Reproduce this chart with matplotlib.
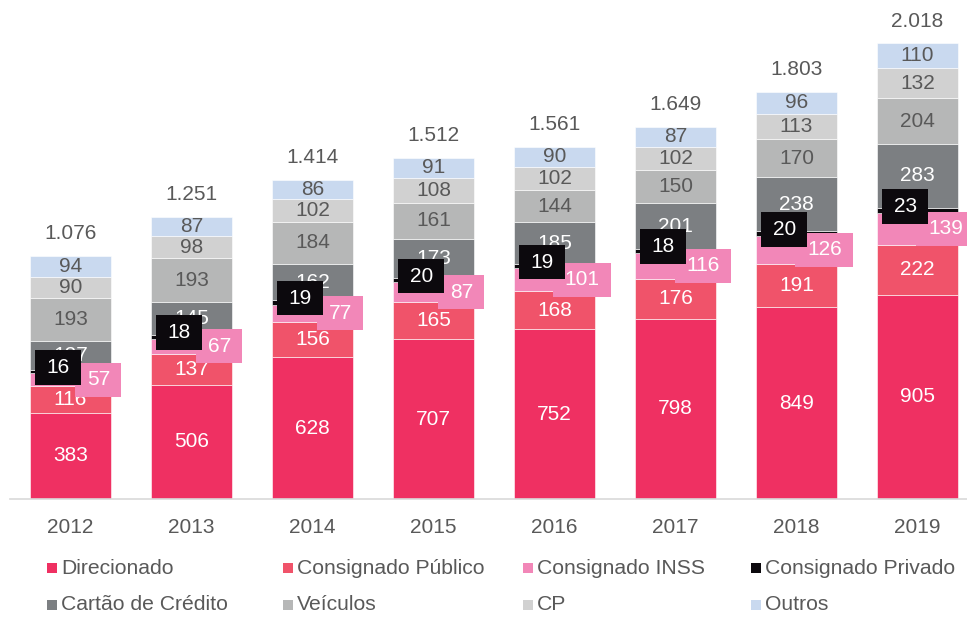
import matplotlib
matplotlib.use("Agg")
import matplotlib.pyplot as plt
from matplotlib.path import Path
from matplotlib.patches import Rectangle
import numpy as np

plt.rcParams['font.family'] = ['Liberation Sans', 'DejaVu Sans']

years = ["2012", "2013", "2014", "2015", "2016", "2017", "2018", "2019"]
series_names = ["Direcionado", "Consignado Público", "Consignado INSS", "Consignado Privado",
                "Cartão de Crédito", "Veículos", "CP", "Outros"]

direcionado = [383, 506, 628, 707, 752, 798, 849, 905]
consignado_publico = [116, 137, 156, 165, 168, 176, 191, 222]
consignado_inss = [57, 67, 77, 87, 101, 116, 126, 139]
consignado_privado = [16, 18, 19, 20, 19, 18, 20, 23]
cartao_credito = [127, 145, 162, 173, 185, 201, 238, 283]
veiculos = [193, 193, 184, 161, 144, 150, 170, 204]
cp = [90, 98, 102, 108, 102, 102, 113, 132]
outros = [94, 87, 86, 91, 90, 87, 96, 110]
totals = [1076, 1251, 1414, 1512, 1561, 1649, 1803, 2018]

colors = ["#EF3062", "#F0536A", "#F287B8", "#0C090D",
          "#7C7F82", "#B6B7B7", "#D1D1D1", "#C9D9EF"]
label_colors = ["white", "white", "white", "white", "white", "#595959", "#595959", "#595959"]
text_gray = "#595959"

data = [direcionado, consignado_publico, consignado_inss, consignado_privado,
        cartao_credito, veiculos, cp, outros]

W, H = 967, 618
fig = plt.figure(figsize=(W / 100, H / 100), dpi=100)
ax = fig.add_axes([10 / W, (H - 499) / H, (W - 10) / W, (499 - 10) / H])

x = np.arange(len(years))
bar_w = 0.67
bottom = np.zeros(len(years))
bars = []
for vals, col in zip(data, colors):
    ax.bar(x, vals, bar_w, bottom=bottom, color=col, edgecolor="white", linewidth=0.4)
    bars.append((np.array(vals, dtype=float), bottom.copy()))
    bottom = bottom + np.array(vals)


def label_box(x0, y0, width, height, mutation_size):
    px = 0.55 * mutation_size
    py = 0.37 * mutation_size
    verts = [(x0 - px, y0 - py), (x0 + width + px, y0 - py),
             (x0 + width + px, y0 + height + py), (x0 - px, y0 + height + py),
             (x0 - px, y0 - py)]
    return Path(verts, closed=True)


fs_seg = 15
for si, ((vals, bots), tcol) in enumerate(zip(bars, label_colors)):
    for i in range(len(years)):
        yc = bots[i] + vals[i] / 2
        txt = f"{int(vals[i])}"
        if si == 2:
            ax.annotate(txt, (x[i] + 0.23, yc), ha="center", va="center",
                        color="white", fontsize=fs_seg, zorder=6,
                        bbox=dict(boxstyle=label_box, fc=colors[2], ec="none"))
        elif si == 3:
            ax.annotate(txt, (x[i] - 0.1, yc), xytext=(0, 3), textcoords="offset points",
                        ha="center", va="center", color="white", fontsize=fs_seg, zorder=7,
                        bbox=dict(boxstyle=label_box, fc=colors[3], ec="none"))
        else:
            ax.text(x[i], yc, txt, ha="center", va="center", color=tcol,
                    fontsize=fs_seg, zorder=5)

for i, t in enumerate(totals):
    ax.annotate(f"{t:,}".replace(",", "."), (x[i], t), xytext=(0, 16),
                textcoords="offset points", ha="center", va="center",
                color=text_gray, fontsize=fs_seg)

ax.set_xlim(-0.5, (W - 70.5) / 121)
ax.set_ylim(0, 489 / 0.2258)
for s in ["top", "right", "left"]:
    ax.spines[s].set_visible(False)
ax.spines["bottom"].set_color("#D9D9D9")
ax.spines["bottom"].set_linewidth(1.2)
ax.set_yticks([])
ax.set_xticks(x)
ax.set_xticklabels(years, color=text_gray, fontsize=15)
ax.tick_params(axis="x", length=0, pad=14)

# legend laid out in two rows of four entries
col_x = [47, 283, 523, 751]
row_y = [568, 605]
for k, (name, col) in enumerate(zip(series_names, colors)):
    r, c = divmod(k, 4)
    px, py = col_x[c], row_y[r]
    fig.add_artist(Rectangle((px / W, (H - py - 5) / H), 10 / W, 10 / H,
                             transform=fig.transFigure, fc=col, ec="none"))
    fig.text((px + 14) / W, (H - py) / H, name, ha="left", va="center",
             color=text_gray, fontsize=15.2)

fig.savefig("out.png", dpi=100)
